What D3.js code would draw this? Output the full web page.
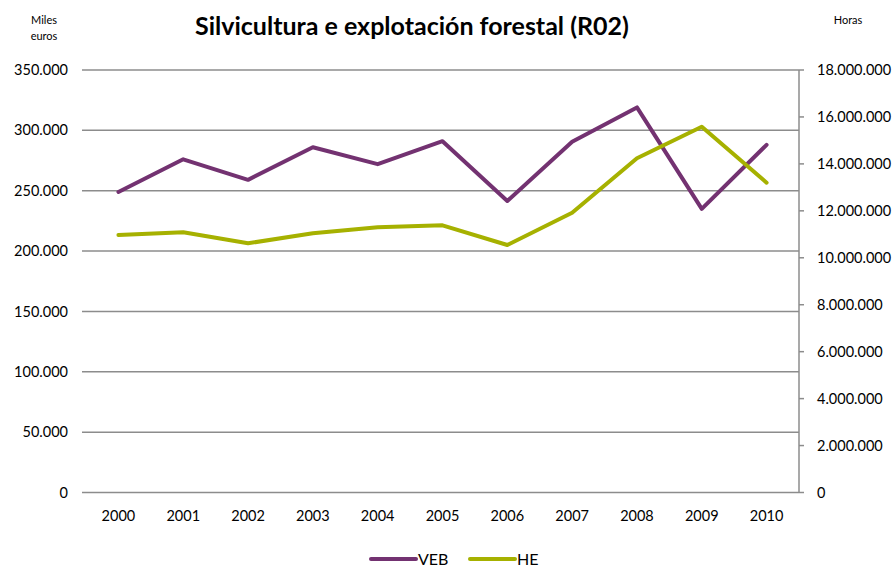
<!DOCTYPE html>
<html><head><meta charset="utf-8">
<script src="https://cdn.jsdelivr.net/npm/d3@7"></script>
<style>body{margin:0;background:#fff}svg{display:block}text{font-family:Lato,"Open Sans",sans-serif}</style>
</head><body><svg id="c" width="896" height="572"></svg>
<script>
const years = ["2000","2001","2002","2003","2004","2005","2006","2007","2008","2009","2010"];
const veb = [249000,276000,259000,286000,272000,291000,241500,290500,319000,235000,288000];
const he = [10970000,11085000,10617000,11043000,11298000,11384000,10544000,11920000,14237000,15585000,13200000];
const leftTicks = [0,50000,100000,150000,200000,250000,300000,350000];
const rightTicks = [0,2000000,4000000,6000000,8000000,10000000,12000000,14000000,16000000,18000000];
const title = "Silvicultura e explotación forestal (R02)";

const svg = d3.select("#c");
const L = 86, R = 799, T = 70, B = 492.5;
const fmt = v => d3.format(",")(v).replace(/,/g, ".");
const x = d3.scaleBand().domain(years).range([L, R]);
const yL = d3.scaleLinear().domain([0, 350000]).range([B, T]);
const yR = d3.scaleLinear().domain([0, 18000000]).range([B, T]);
const purple = "#733271", green = "#a6b100", grid = "#8c8c8c";

// gridlines
svg.append("g").selectAll("line").data(leftTicks).join("line")
  .attr("x1", L - 4).attr("x2", R).attr("y1", d => yL(d)).attr("y2", d => yL(d))
  .attr("stroke", grid).attr("stroke-width", 1.5);

// left labels
svg.append("g").selectAll("text").data(leftTicks).join("text")
  .attr("x", 68).attr("y", d => yL(d)).attr("dy", "0.35em").attr("text-anchor", "end")
  .attr("font-size", 14.5).attr("fill", "#000").text(fmt);

// right axis
svg.append("line").attr("x1", R).attr("x2", R).attr("y1", T).attr("y2", B)
  .attr("stroke", grid).attr("stroke-width", 1.5);
svg.append("g").selectAll("line").data(rightTicks).join("line")
  .attr("x1", R).attr("x2", R + 5).attr("y1", d => yR(d)).attr("y2", d => yR(d))
  .attr("stroke", grid).attr("stroke-width", 1.5);
svg.append("g").selectAll("text").data(rightTicks).join("text")
  .attr("x", 817).attr("y", d => yR(d)).attr("dy", "0.35em").attr("text-anchor", "start")
  .attr("font-size", 14.5).attr("fill", "#000").text(fmt);

// x labels
svg.append("g").selectAll("text").data(years).join("text")
  .attr("x", d => x(d) + x.bandwidth() / 2).attr("y", 516).attr("dy", "0.35em")
  .attr("text-anchor", "middle").attr("font-size", 14.5).attr("fill", "#000").text(d => d);

// lines
const cx = (d, i) => x(years[i]) + x.bandwidth() / 2;
svg.append("path").datum(veb).attr("fill", "none").attr("stroke", purple).attr("stroke-width", 4)
  .attr("stroke-linejoin", "round").attr("stroke-linecap", "round")
  .attr("d", d3.line().x(cx).y(d => yL(d)));
svg.append("path").datum(he).attr("fill", "none").attr("stroke", green).attr("stroke-width", 4)
  .attr("stroke-linejoin", "round").attr("stroke-linecap", "round")
  .attr("d", d3.line().x(cx).y(d => yR(d)));

// title
svg.append("text").attr("x", 412).attr("y", 26).attr("dy", "0.35em").attr("text-anchor", "middle")
  .attr("font-size", 25).attr("font-weight", "bold").attr("fill", "#000").text(title);
svg.append("text").attr("x", 44).attr("y", 20).attr("dy", "0.35em").attr("text-anchor", "middle")
  .attr("font-size", 11).text("Miles");
svg.append("text").attr("x", 44).attr("y", 36).attr("dy", "0.35em").attr("text-anchor", "middle")
  .attr("font-size", 11).text("euros");
svg.append("text").attr("x", 848).attr("y", 20).attr("dy", "0.35em").attr("text-anchor", "middle")
  .attr("font-size", 11).text("Horas");

// legend
const leg = [{n:"VEB", c:purple, x:371}, {n:"HE", c:green, x:470}];
const lg = svg.append("g").selectAll("g").data(leg).join("g");
lg.append("line").attr("x1", d => d.x).attr("x2", d => d.x + 45).attr("y1", 559).attr("y2", 559)
  .attr("stroke", d => d.c).attr("stroke-width", 4).attr("stroke-linecap", "round");
lg.append("text").attr("x", d => d.x + 47).attr("y", 559).attr("dy", "0.35em")
  .attr("font-size", 16).attr("fill", "#000").text(d => d.n);
</script></body></html>
